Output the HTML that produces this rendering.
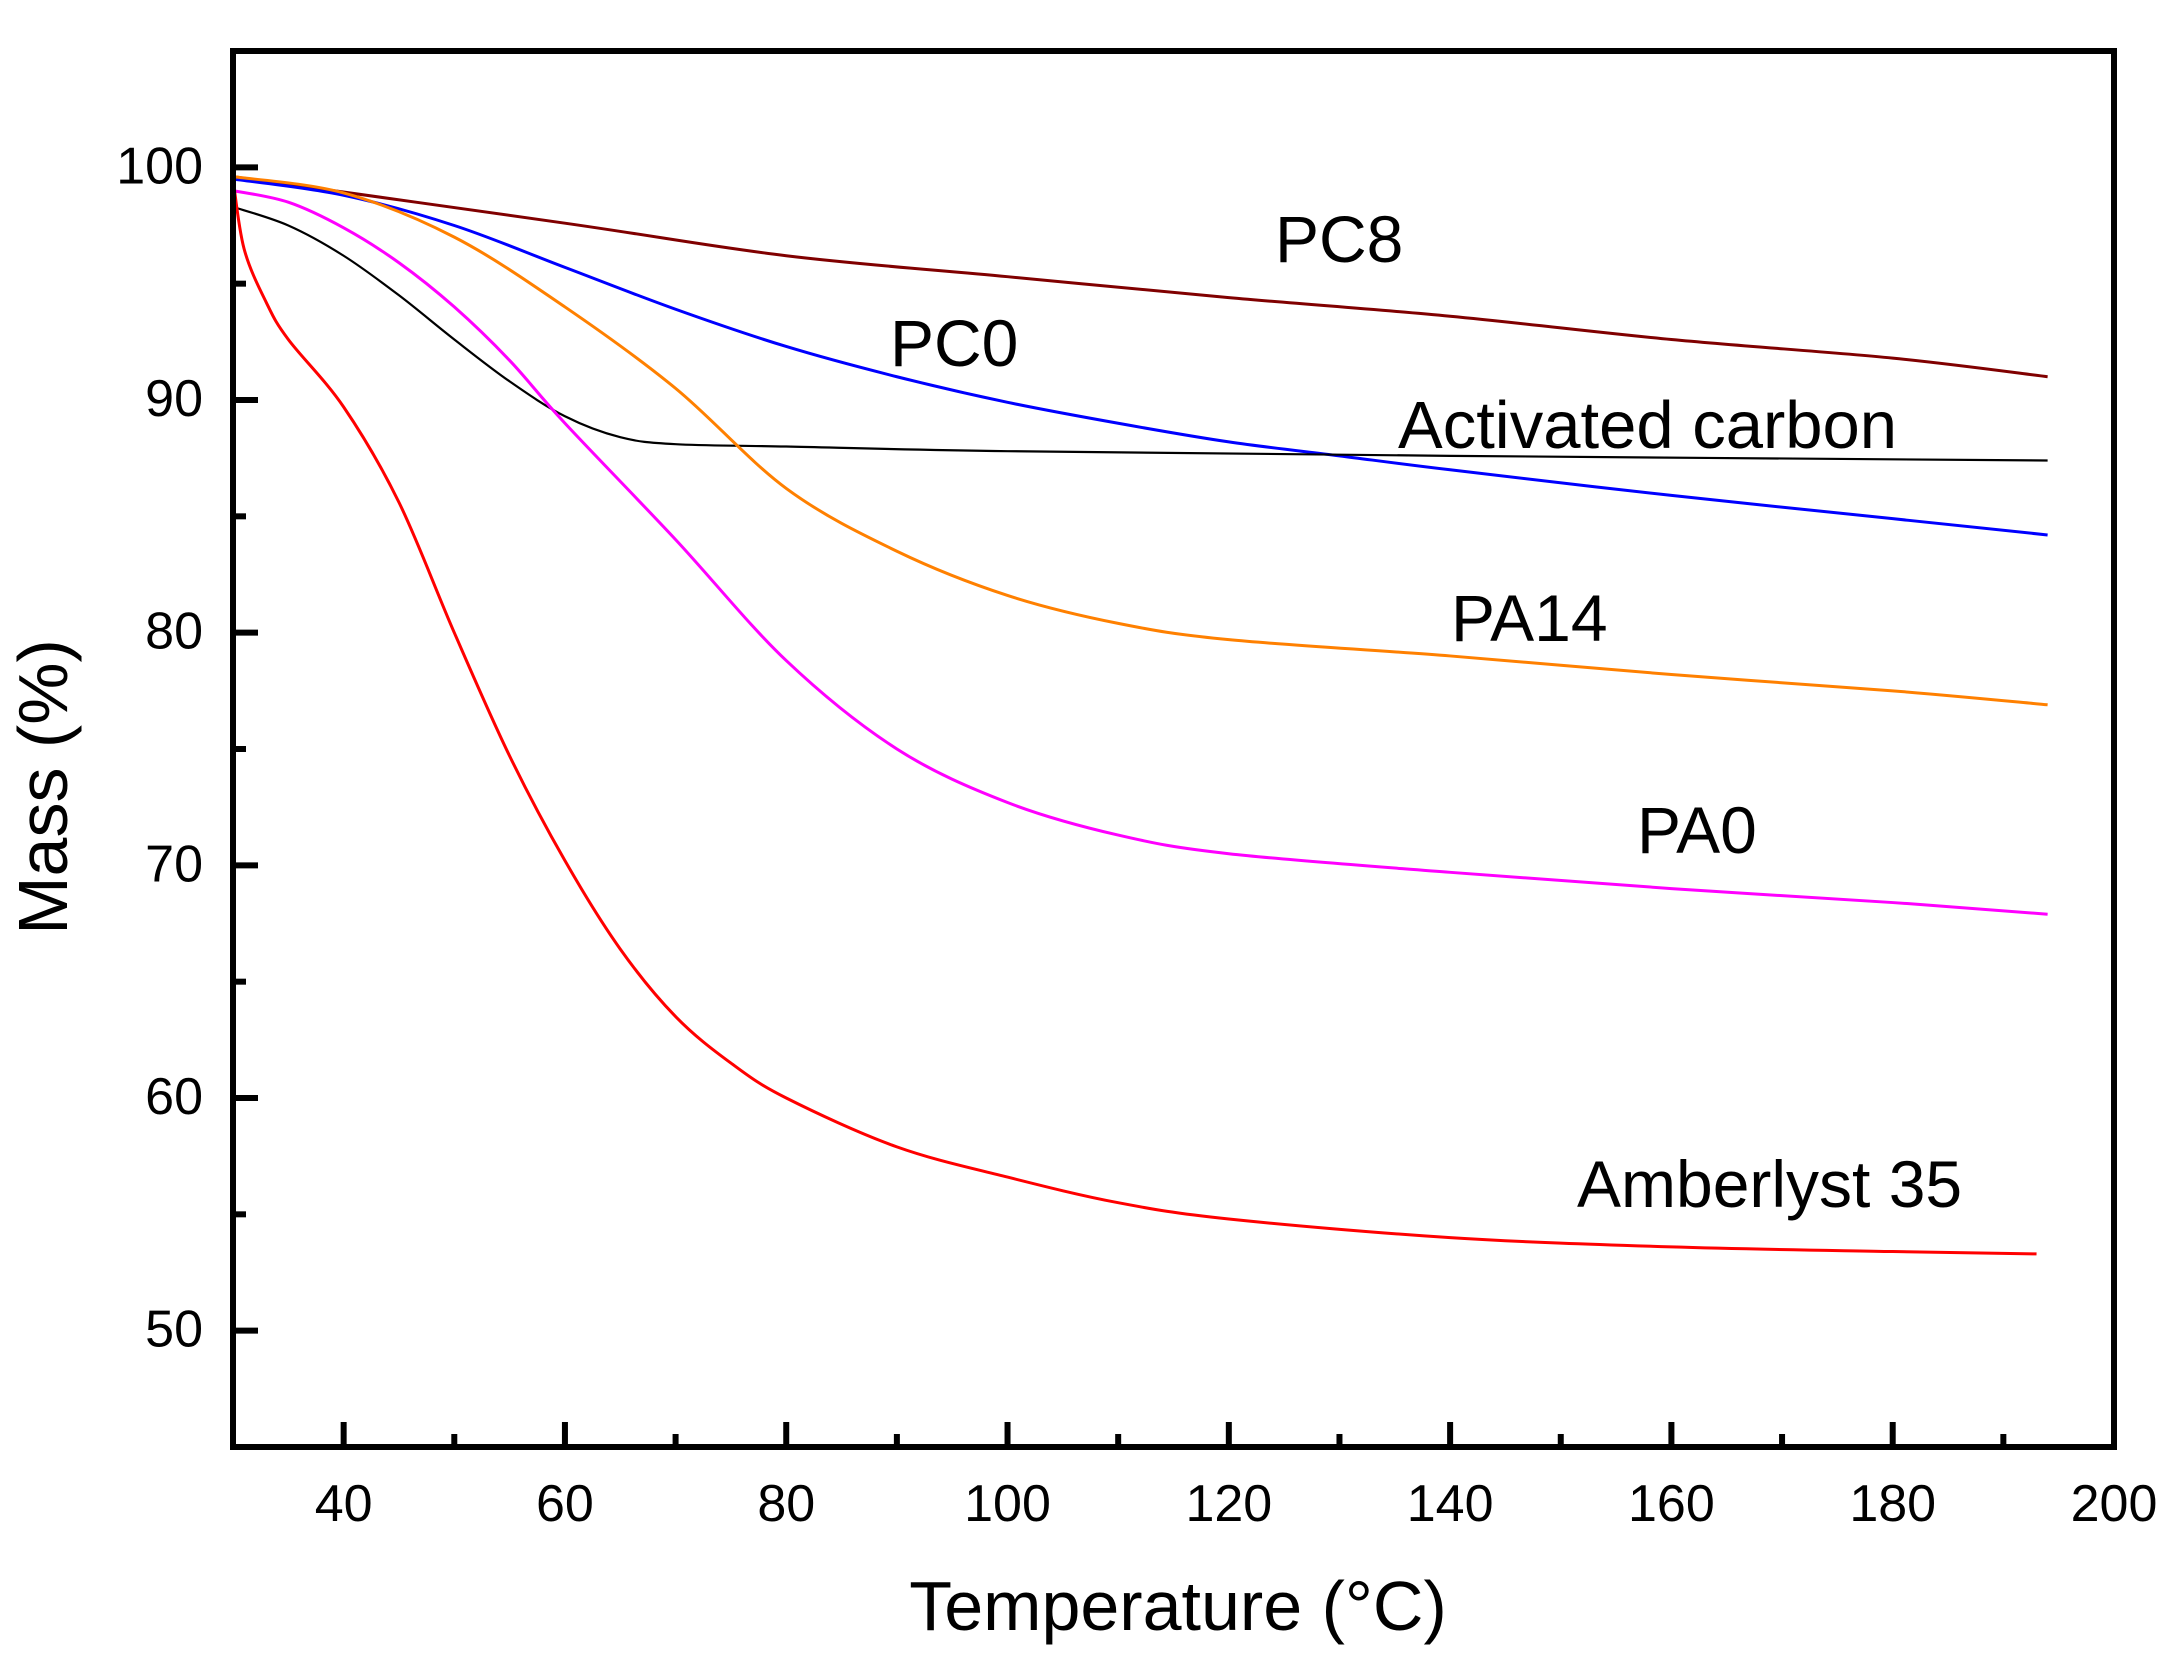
<!DOCTYPE html>
<html><head><meta charset="utf-8"><style>
html,body{margin:0;padding:0;background:#fff;}
svg{display:block;font-family:"Liberation Sans",Arial,sans-serif;}
</style></head><body>
<svg id="chart" width="2174" height="1663" viewBox="0 0 2174 1663" xmlns="http://www.w3.org/2000/svg">
<g id="series"></g>
<g id="axes"></g>
<g id="labels">
<text x="1275" y="262" font-size="66">PC8</text>
<text x="890" y="366" font-size="66">PC0</text>
<text x="1398" y="448" font-size="67">Activated carbon</text>
<text x="1451" y="641" font-size="66">PA14</text>
<text x="1637" y="853" font-size="66">PA0</text>
<text x="1577" y="1207" font-size="66">Amberlyst 35</text>
</g>
<text x="1178" y="1630" font-size="70" text-anchor="middle">Temperature (°C)</text>
<text transform="translate(67,787) rotate(-90)" font-size="70" text-anchor="middle">Mass (%)</text>
</svg>
<script>
const xTicks=[40,60,80,100,120,140,160,180,200];
const yTicks=[50,60,70,80,90,100];
const pc8X=[30,60,80,100,120,140,160,180,194];
const pc8Y=[99.6,97.6,96.2,95.3,94.4,93.6,92.6,91.8,91.0];
const pc0X=[30,40,50,60,70,80,90,100,110,120,130,140,160,180,194];
const pc0Y=[99.5,98.8,97.5,95.7,93.9,92.3,91.0,89.9,89.0,88.2,87.6,87.0,85.9,84.9,84.2];
const acX=[30,35,40,45,50,55,60,65,70,80,100,140,194];
const acY=[98.3,97.5,96.2,94.5,92.6,90.8,89.3,88.4,88.1,88.0,87.8,87.6,87.4];
const pa14X=[30,40,50,60,70,80,90,100,110,120,140,160,180,194];
const pa14Y=[99.6,98.9,97.0,94.0,90.5,86.2,83.5,81.6,80.4,79.7,79.0,78.2,77.5,76.9];
const pa0X=[30,35,40,45,50,55,60,70,80,90,100,110,120,140,160,180,194];
const pa0Y=[99.0,98.5,97.4,95.9,94.0,91.7,89.0,84.0,78.8,75.0,72.7,71.3,70.5,69.7,69.0,68.4,67.9];
const amX=[30,31,33,35,40,45,50,55,60,65,70,75,80,90,100,110,120,140,160,180,193];
const amY=[99.5,96.5,94.2,92.6,89.7,85.6,80.0,74.7,70.2,66.4,63.5,61.5,60.0,57.9,56.6,55.5,54.8,54.0,53.6,53.4,53.3];

const L=233,R=2114,T=51,B=1447;
const xMin=30,xMax=200,yMin=45,yMax=105;
const sx=v=>L+(v-xMin)/(xMax-xMin)*(R-L);
const sy=v=>B-(v-yMin)/(yMax-yMin)*(B-T);
const NS='http://www.w3.org/2000/svg';
function mk(tag,attrs,parent){const e=document.createElementNS(NS,tag);for(const k in attrs)e.setAttribute(k,attrs[k]);parent.appendChild(e);return e;}
function smooth(xs,ys){
  const p=xs.map((x,i)=>[sx(x),sy(ys[i])]);
  let d='M'+p[0][0]+','+p[0][1];
  for(let i=0;i<p.length-1;i++){
    const p0=p[i-1]||p[i],p1=p[i],p2=p[i+1],p3=p[i+2]||p2;
    const c1=[p1[0]+(p2[0]-p0[0])/6,p1[1]+(p2[1]-p0[1])/6];
    const c2=[p2[0]-(p3[0]-p1[0])/6,p2[1]-(p3[1]-p1[1])/6];
    d+=' C'+c1[0]+','+c1[1]+' '+c2[0]+','+c2[1]+' '+p2[0]+','+p2[1];
  }
  return d;
}
const sg=document.getElementById('series');
const series=[['line-pc8',pc8X,pc8Y,'#800000',3],['line-pc0',pc0X,pc0Y,'#0000ff',3],['line-activated-carbon',acX,acY,'#000000',2.2],['line-pa14',pa14X,pa14Y,'#ff8000',3],['line-pa0',pa0X,pa0Y,'#ff00ff',3],['line-amberlyst-35',amX,amY,'#ff0000',3]];
series.forEach(s=>{
  const p=mk('path',{d:smooth(s[1],s[2]),fill:'none',stroke:s[3],'stroke-width':s[4]},sg);
  
  
});
const ag=document.getElementById('axes');
const frame=mk('rect',{x:L,y:T,width:R-L,height:B-T,fill:'none',stroke:'#000','stroke-width':6},ag);


for(let v=40;v<=200;v+=10){
  const major=v%20===0;const x=sx(v);
  const t=mk('line',{x1:x,x2:x,y1:B,y2:B-(major?25:13),stroke:'#000','stroke-width':6},ag);
  
  
}
xTicks.forEach(v=>{
  const t=mk('text',{x:sx(v),y:1521,'font-size':52,'text-anchor':'middle'},ag);t.textContent=v;
  
  
});
for(let v=50;v<=100;v+=5){
  const major=v%10===0;const y=sy(v);
  const t=mk('line',{x1:L,x2:L+(major?25:13),y1:y,y2:y,stroke:'#000','stroke-width':6},ag);
  
  
}
yTicks.forEach(v=>{
  const t=mk('text',{x:203,y:sy(v)+16,'font-size':52,'text-anchor':'end'},ag);t.textContent=v;
  
  
});
</script>
</body></html>
